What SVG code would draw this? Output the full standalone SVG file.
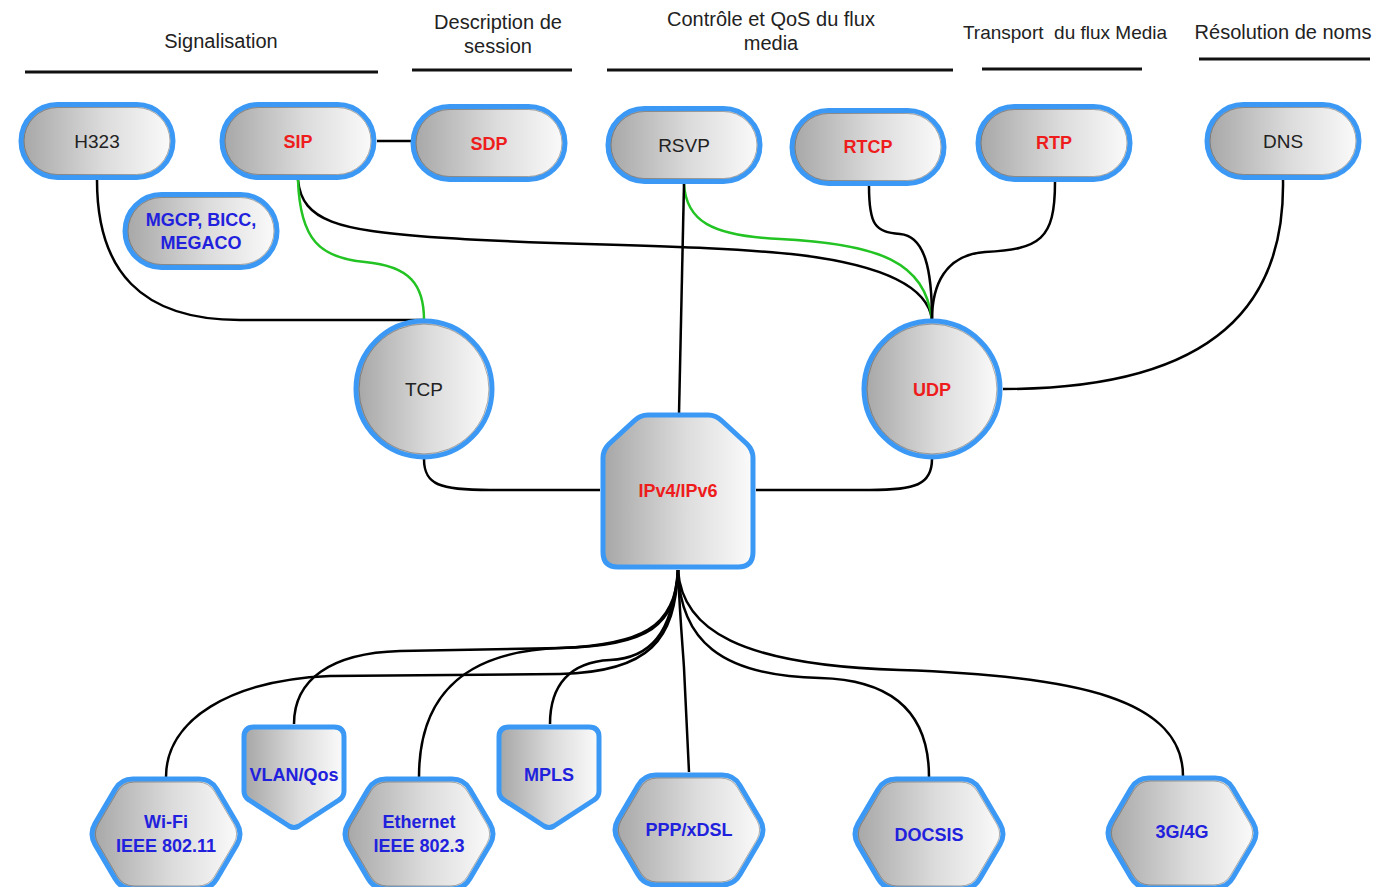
<svg xmlns="http://www.w3.org/2000/svg" xmlns:xlink="http://www.w3.org/1999/xlink" width="1382" height="887" viewBox="0 0 1382 887">
<defs>
<linearGradient id="g" x1="0" y1="0" x2="1" y2="0">
<stop offset="0" stop-color="#a6a6a6"/>
<stop offset="0.55" stop-color="#dcdcdc"/>
<stop offset="1" stop-color="#fbfbfb"/>
</linearGradient>
<rect id="pill" x="-76" y="-36.5" width="152" height="73" rx="36.5"/>
<rect id="pillIn" x="-73" y="-33.5" width="146" height="67" rx="33.5"/>
<path id="hex" d="M-71,-10.4 L-51,-44.6 Q-45,-55 -33,-55 L33,-55 Q45,-55 51,-44.6 L71,-10.4 Q77,0 71,10.4 L51,44.6 Q45,55 33,55 L-33,55 Q-45,55 -51,44.6 L-71,10.4 Q-77,0 -71,-10.4 Z"/>
<path id="pent" d="M-40,0 L40,0 Q50,0 50,10 L50,64 Q50,70 45,73 L5,99 Q0,102 -5,99 L-45,73 Q-50,70 -50,64 L-50,10 Q-50,0 -40,0 Z"/>
</defs>
<style>
.node{fill:url(#g);stroke:#3b99f5;stroke-width:5;stroke-linejoin:round}
.inner{fill:none;stroke:#444;stroke-width:1;opacity:.45}
text{font-family:"Liberation Sans",Arial,sans-serif;text-anchor:middle}
.lbl{font-size:19px;fill:#222}
.red{font-size:18px;font-weight:bold;fill:#ee1c1c}
.blue{font-size:18px;font-weight:bold;fill:#2121dd}
.hdr{font-size:20px;fill:#222}
.hl{stroke:#111;stroke-width:3}
.c{fill:none;stroke:#000;stroke-width:2.5}
.gr{fill:none;stroke:#22c322;stroke-width:2.5}
</style>
<rect width="1382" height="887" fill="#fff"/>

<g id="headers">
<text class="hdr" x="221" y="48">Signalisation</text>
<line class="hl" x1="25" y1="72" x2="378" y2="72"/>
<text class="hdr" x="498" y="29">Description de</text>
<text class="hdr" x="498" y="53">session</text>
<line class="hl" x1="412" y1="70" x2="572" y2="70"/>
<text class="hdr" x="771" y="26">Contrôle et QoS du flux</text>
<text class="hdr" x="771" y="50">media</text>
<line class="hl" x1="607" y1="70" x2="953" y2="70"/>
<text class="hdr" x="1065" y="39" style="font-size:19px" xml:space="preserve">Transport  du flux Media</text>
<line class="hl" x1="982" y1="69" x2="1142" y2="69"/>
<text class="hdr" x="1283" y="39">Résolution de noms</text>
<line class="hl" x1="1199" y1="59" x2="1370" y2="59"/>
</g>

<g id="connectors">
<path class="c" d="M377,141 L411,141"/>
<path class="c" d="M97,180 C97,270 140,320 240,320 L424,320"/>
<path class="c" d="M298,180 C302,222 340,230 430,237 C560,246 700,244 800,255 C880,265 928,285 932,320"/>
<path class="gr" d="M298,180 C300,240 320,258 365,262 C410,266 424,285 424,320"/>
<path class="gr" d="M684,184 C686,220 710,236 780,239 C880,244 925,262 932,320"/>
<path class="c" d="M684,184 L679,414"/>
<path class="c" d="M869,186 C869,225 875,232 900,234 C925,236 932,270 932,320"/>
<path class="c" d="M1055,182 C1055,240 1040,249 985,252 C945,255 932,285 932,320"/>
<path class="c" d="M1283,180 C1285,300 1220,389 1003,389"/>
<path class="c" d="M424,459 C424,485 440,490 490,490 L600,490"/>
<path class="c" d="M932,459 C932,485 915,490 870,490 L756,490"/>
<path class="c" d="M678,570 C675,640 650,672 560,674 L330,676 C230,680 166,720 166,777"/>
<path class="c" d="M678,570 C676,625 650,646 560,648 L400,651 C330,653 294,680 294,724"/>
<path class="c" d="M678,570 C676,628 640,645 560,648 C470,651 419,690 419,777"/>
<path class="c" d="M678,570 C672,635 650,658 610,660 C570,662 550,685 550,724"/>
<path class="c" d="M678,570 C680,620 683,650 684,668 L689,772"/>
<path class="c" d="M678,570 C680,640 720,676 820,678 C900,680 929,720 929,777"/>
<path class="c" d="M678,570 C682,630 740,665 900,670 C1080,676 1183,700 1183,776"/>
</g>

<g id="H323" transform="translate(97,141)">
<use xlink:href="#pill" class="node"/><use xlink:href="#pillIn" class="inner"/>
<text class="lbl" y="7">H323</text>
</g>
<g id="SIP" transform="translate(298,141)">
<use xlink:href="#pill" class="node"/><use xlink:href="#pillIn" class="inner"/>
<text class="red" y="7">SIP</text>
</g>
<g id="SDP" transform="translate(489,143)">
<use xlink:href="#pill" class="node"/><use xlink:href="#pillIn" class="inner"/>
<text class="red" y="7">SDP</text>
</g>
<g id="RSVP" transform="translate(684,145)">
<use xlink:href="#pill" class="node"/><use xlink:href="#pillIn" class="inner"/>
<text class="lbl" y="7">RSVP</text>
</g>
<g id="RTCP" transform="translate(868,147)">
<use xlink:href="#pill" class="node"/><use xlink:href="#pillIn" class="inner"/>
<text class="red" y="6">RTCP</text>
</g>
<g id="RTP" transform="translate(1054,143)">
<use xlink:href="#pill" class="node"/><use xlink:href="#pillIn" class="inner"/>
<text class="red" y="6">RTP</text>
</g>
<g id="DNS" transform="translate(1283,141)">
<use xlink:href="#pill" class="node"/><use xlink:href="#pillIn" class="inner"/>
<text class="lbl" y="7">DNS</text>
</g>
<g id="MGCP" transform="translate(201,231)">
<use xlink:href="#pill" class="node"/><use xlink:href="#pillIn" class="inner"/>
<text class="blue" y="-5">MGCP, BICC,</text>
<text class="blue" y="18">MEGACO</text>
</g>

<g id="TCP">
<circle class="node" cx="424" cy="389" r="68"/>
<circle class="inner" cx="424" cy="389" r="65"/>
<text class="lbl" x="424" y="396">TCP</text>
</g>
<g id="UDP">
<circle class="node" cx="932" cy="389" r="68"/>
<circle class="inner" cx="932" cy="389" r="65"/>
<text class="red" x="932" y="396">UDP</text>
</g>

<g id="IP">
<path class="node" d="M648,415 L708,415 Q716,415 722,421 L747,444 Q753,450 753,458 L753,552 Q753,567 738,567 L618,567 Q603,567 603,552 L603,458 Q603,450 609,444 L634,421 Q640,415 648,415 Z"/>
<text class="red" x="678" y="497">IPv4/IPv6</text>
</g>

<g id="WiFi" transform="translate(166,834)">
<use xlink:href="#hex" class="node"/><use xlink:href="#hex" class="inner" transform="scale(0.955,0.945)"/>
<text class="blue" y="-6">Wi-Fi</text>
<text class="blue" y="18">IEEE 802.11</text>
</g>
<g id="VLAN" transform="translate(294,727)">
<use xlink:href="#pent" class="node"/>
<text class="blue" y="54">VLAN/Qos</text>
</g>
<g id="Ethernet" transform="translate(419,834)">
<use xlink:href="#hex" class="node"/><use xlink:href="#hex" class="inner" transform="scale(0.955,0.945)"/>
<text class="blue" y="-6">Ethernet</text>
<text class="blue" y="18">IEEE 802.3</text>
</g>
<g id="MPLS" transform="translate(549,727)">
<use xlink:href="#pent" class="node"/>
<text class="blue" y="54">MPLS</text>
</g>
<g id="PPP" transform="translate(689,830)">
<use xlink:href="#hex" class="node"/><use xlink:href="#hex" class="inner" transform="scale(0.955,0.945)"/>
<text class="blue" y="6">PPP/xDSL</text>
</g>
<g id="DOCSIS" transform="translate(929,834)">
<use xlink:href="#hex" class="node"/><use xlink:href="#hex" class="inner" transform="scale(0.955,0.945)"/>
<text class="blue" y="7">DOCSIS</text>
</g>
<g id="G34" transform="translate(1182,833)">
<use xlink:href="#hex" class="node"/><use xlink:href="#hex" class="inner" transform="scale(0.955,0.945)"/>
<text class="blue" y="5">3G/4G</text>
</g>
</svg>
